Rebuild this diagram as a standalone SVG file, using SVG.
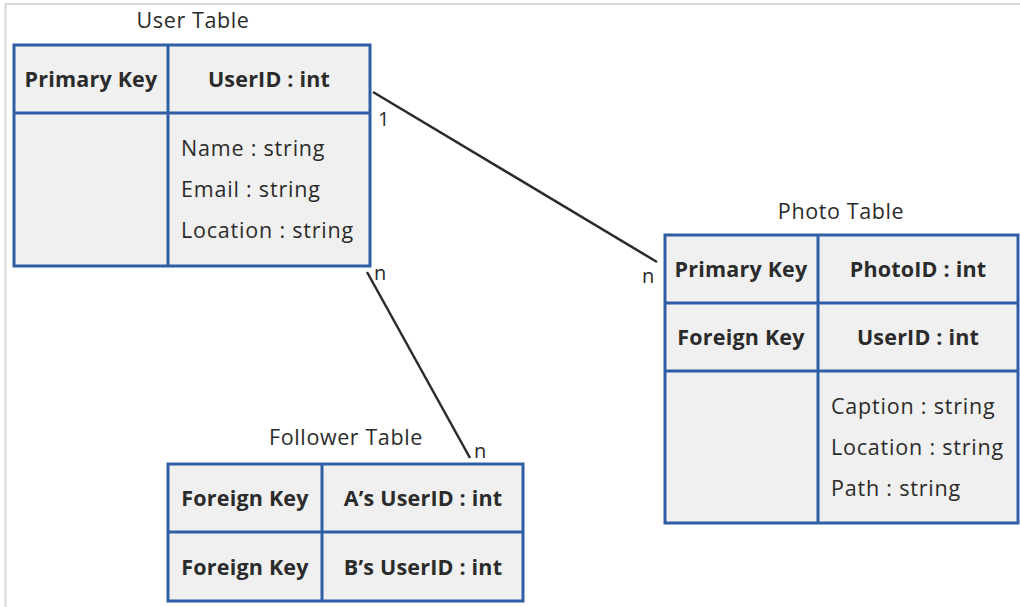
<svg xmlns="http://www.w3.org/2000/svg" width="1020" height="607" viewBox="0 0 1020 607">
  <style>
    .cell { fill: #f0f0f0; stroke: #2f5ea6; stroke-width: 3; }
    .grid { stroke: #2f5ea6; stroke-width: 3; fill: none; }
    .key { font-family: "Open Sans", "Liberation Sans", sans-serif; font-weight: 700; font-size: 21.5px; letter-spacing: 0.2px; fill: #2b2b2b; text-anchor: middle; }
    .attr { font-family: "Open Sans", "Liberation Sans", sans-serif; font-size: 21.5px; letter-spacing: 0.8px; fill: #2b2b2b; }
    .title { font-family: "Open Sans", "Liberation Sans", sans-serif; font-size: 21.5px; letter-spacing: 0.6px; fill: #2b2b2b; text-anchor: middle; }
    .card { font-family: "Open Sans", "Liberation Sans", sans-serif; font-size: 20px; fill: #2b2b2b; }
    .link { stroke: #2b2b2b; stroke-width: 2.5; fill: none; }
  </style>

  <rect width="1020" height="607" fill="#ffffff"/>
  <!-- outer frame (top and left edges) -->
  <path d="M5.5 607 V4 H1020" fill="none" stroke="#d8d8d8" stroke-width="2"/>

  <!-- relationship lines -->
  <g id="connectors">
    <line class="link" x1="373" y1="92" x2="657" y2="262"/>
    <line class="link" x1="367" y1="272" x2="470" y2="458"/>
    <text class="card" x="378" y="126">1</text>
    <text class="card" x="374" y="280">n</text>
    <text class="card" x="642" y="283">n</text>
    <text class="card" x="474" y="458">n</text>
  </g>

  <!-- User Table -->
  <g id="user-table">
    <text class="title" x="193" y="28">User Table</text>
    <rect class="cell" x="14" y="45" width="356" height="221"/>
    <path class="grid" d="M168 45 V266 M14 113 H370"/>
    <text class="key" x="91" y="87">Primary Key</text>
    <text class="key" x="269" y="87">UserID : int</text>
    <text class="attr" x="181" y="156">Name : string</text>
    <text class="attr" x="181" y="197">Email : string</text>
    <text class="attr" x="181" y="238">Location : string</text>
  </g>

  <!-- Photo Table -->
  <g id="photo-table">
    <text class="title" x="841" y="219">Photo Table</text>
    <rect class="cell" x="665" y="235" width="353" height="288"/>
    <path class="grid" d="M818 235 V523 M665 303 H1018 M665 371 H1018"/>
    <text class="key" x="741" y="277">Primary Key</text>
    <text class="key" x="918" y="277">PhotoID : int</text>
    <text class="key" x="741" y="345">Foreign Key</text>
    <text class="key" x="918" y="345">UserID : int</text>
    <text class="attr" x="831" y="414">Caption : string</text>
    <text class="attr" x="831" y="455">Location : string</text>
    <text class="attr" x="831" y="496">Path : string</text>
  </g>

  <!-- Follower Table -->
  <g id="follower-table">
    <text class="title" x="346" y="445">Follower Table</text>
    <rect class="cell" x="168" y="464" width="355" height="137"/>
    <path class="grid" d="M322 464 V601 M168 532 H523"/>
    <text class="key" x="245" y="506">Foreign Key</text>
    <text class="key" x="423" y="506">A’s UserID : int</text>
    <text class="key" x="245" y="575">Foreign Key</text>
    <text class="key" x="423" y="575">B’s UserID : int</text>
  </g>
</svg>
